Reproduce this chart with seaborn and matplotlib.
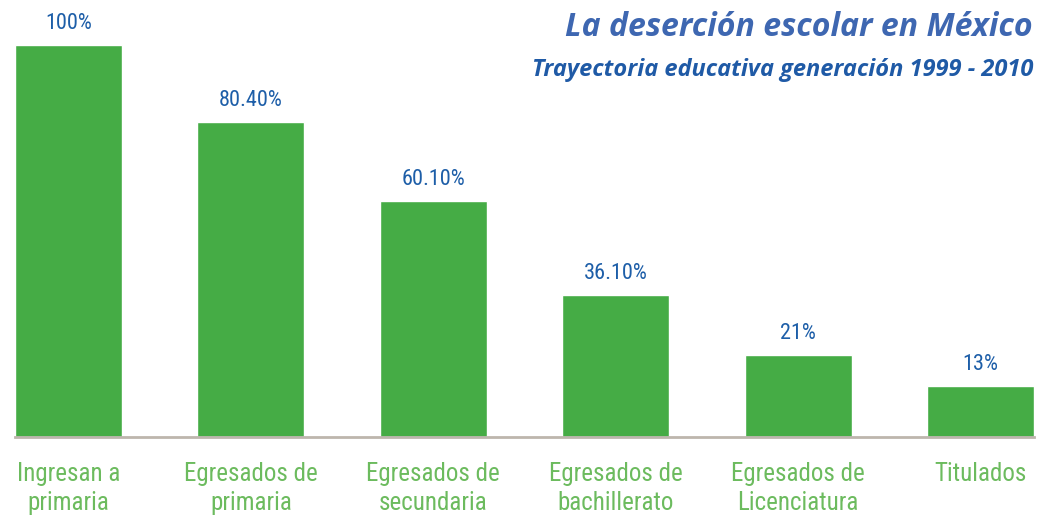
import matplotlib
matplotlib.use("Agg")
import matplotlib.pyplot as plt
import seaborn as sns

categories = ["Ingresan a\nprimaria", "Egresados de\nprimaria", "Egresados de\nsecundaria",
              "Egresados de\nbachillerato", "Egresados de\nLicenciatura", "Titulados"]
values = [100, 80.4, 60.1, 36.1, 21, 13]
value_labels = ["100%", "80.40%", "60.10%", "36.10%", "21%", "13%"]

sns.set_style("white")
plt.rcParams["font.family"] = ["Roboto Condensed", "DejaVu Sans"]

fig = plt.figure(figsize=(10.38, 5.2), dpi=100)
ax = fig.add_axes([15 / 1038, (520 - 437) / 520, (1034 - 15) / 1038, 392 / 520])

w = 0.587
sns.barplot(x=categories, y=values, color="#45ac45", saturation=1, width=w, ax=ax)
ax.set_xlim(-w / 2, len(values) - 1 + w / 2)
ax.set_ylim(0, 100)

for i, (v, lab) in enumerate(zip(values, value_labels)):
    ax.annotate(lab, (i, v), xytext=(0, 8), textcoords="offset points",
                ha="center", va="bottom", fontsize=16, color="#1d5ea8")

for s in ["top", "right", "left"]:
    ax.spines[s].set_visible(False)
ax.spines["bottom"].set_color("#bdb6ad")
ax.spines["bottom"].set_linewidth(2)
ax.set_yticks([])
ax.tick_params(axis="x", length=0, pad=18, labelsize=18, labelcolor="#6cbb5e")
for t in ax.get_xticklabels():
    t.set_linespacing(1.25)
ax.set_xlabel("")
ax.set_ylabel("")

fig.text(1033 / 1038, 1 - 36 / 520, "La deserción escolar en México", ha="right", va="baseline",
         fontsize=23, fontweight="bold", fontstyle="italic", fontstretch="normal",
         color="#3e67b1", family=["Open Sans", "DejaVu Sans"])
fig.text(1033 / 1038, 1 - 76 / 520, "Trayectoria educativa generación 1999 - 2010", ha="right",
         va="baseline", fontsize=17, fontweight="bold", fontstyle="italic", fontstretch="normal",
         color="#1f5aa6", family=["Open Sans", "DejaVu Sans"])

fig.savefig("out.png", dpi=100)
